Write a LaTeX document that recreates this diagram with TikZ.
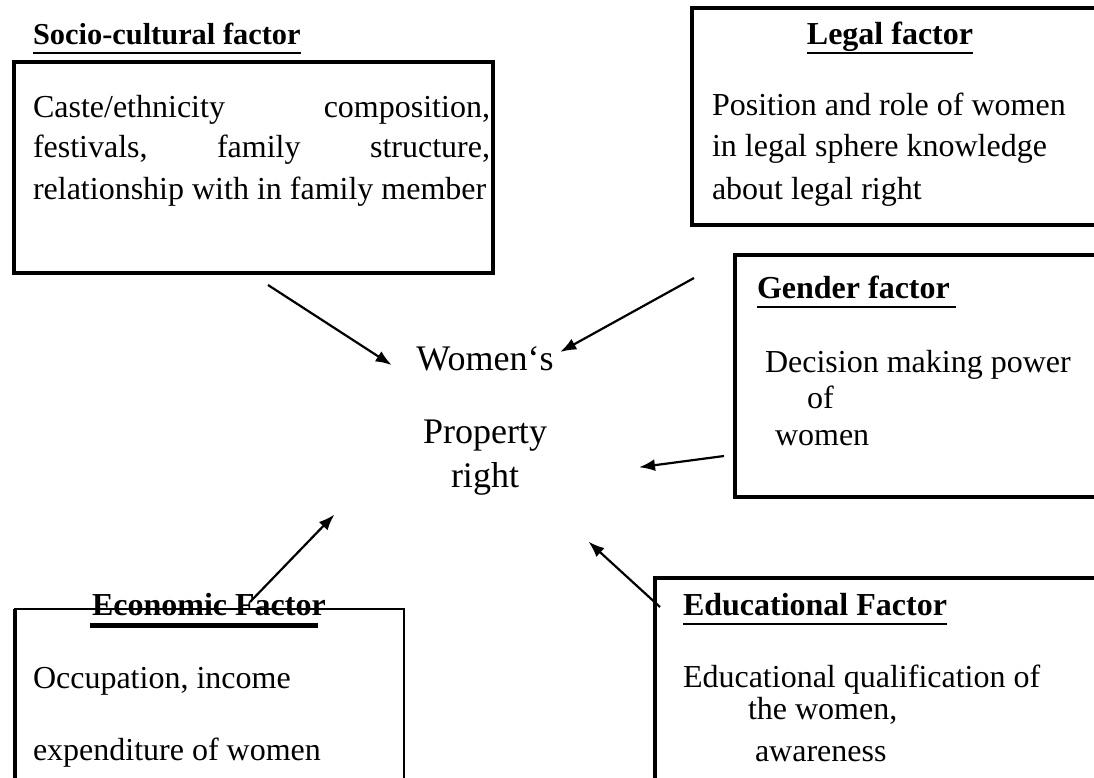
\documentclass[tikz,border=0pt]{standalone}
\usepackage{fontspec}
\setmainfont{Liberation Serif}
\usetikzlibrary{arrows.meta}
\tikzset{
  txt/.style={inner sep=0pt, outer sep=0pt, anchor=base west, font=\fontsize{32}{38}\selectfont},
  ttl/.style={txt, font=\fontsize{32}{38}\selectfont\bfseries},
  big/.style={inner sep=0pt, outer sep=0pt, anchor=base, font=\fontsize{36}{42}\selectfont},
  frame/.style={draw, line width=3.2pt, inner sep=0pt, outer sep=0pt, anchor=north west},
  uline/.style={line width=2.6pt},
  arr/.style={-{Latex[length=16pt,width=12pt]}, line width=2.2pt, shorten >=-2pt},
}
\begin{document}
\begin{tikzpicture}[x=1pt,y=-1pt]
\useasboundingbox (0,0) rectangle (1094,778);
\clip (0,0) rectangle (1094,778);

% ---- boxes ----
\node[frame, minimum width=479pt, minimum height=211pt] (socbox) at (14,62) {};
\node[frame, minimum width=430pt, minimum height=217pt] (legbox) at (692,8) {};
\node[frame, minimum width=390pt, minimum height=242pt] (genbox) at (735,255) {};
\node[frame, line width=2.2pt, minimum width=389pt, minimum height=200pt] (ecobox) at (15,609) {};
\draw[line width=3.6pt] (15,609) -- (15,800);
\node[frame, minimum width=450pt, minimum height=205pt] (edubox) at (655,578) {};

% ---- socio-cultural ----
\node[ttl, font=\fontsize{30.4}{38}\selectfont\bfseries] (soct) at (33,45) {Socio-cultural factor};
\draw[uline] ([yshift=-8pt]soct.base west) -- ([yshift=-8pt]soct.base east);
\node[txt, text width=457pt] (soc1) at (33,118) {Caste/ethnicity\hfill composition,};
\node[txt, text width=457pt] (soc2) at (33,158) {festivals,\hfill family\hfill structure,};
\node[txt] (soc3) at (33,200) {relationship with in family member};

% ---- legal ----
\node[ttl, anchor=base] (legt) at (890,45) {Legal factor};
\draw[uline] ([yshift=-8pt]legt.base west) -- ([yshift=-8pt]legt.base east);
\node[txt] (leg1) at (712,116) {Position and role of women};
\node[txt] (leg2) at (712,157) {in legal sphere knowledge};
\node[txt] (leg3) at (712,200) {about legal right};

% ---- gender ----
\node[ttl] (gent) at (757,298) {Gender factor};
\draw[uline] ([yshift=-9pt]gent.base west) -- ([yshift=-9pt,xshift=6pt]gent.base east);
\node[txt] (gen1) at (765,372) {Decision making power};
\node[txt] (gen2) at (807,408) {of};
\node[txt] (gen3) at (775,445) {women};

% ---- economic ----
\node[ttl] (ecot) at (92,615) {Economic Factor};
\draw[line width=5pt] (90,625.5) -- (318,625.5);
\node[txt] (eco1) at (33,688) {Occupation, income};
\node[txt] (eco2) at (33,760) {expenditure of women};

% ---- educational ----
\node[ttl] (edut) at (683,615) {Educational Factor};
\draw[uline] ([yshift=-9pt]edut.base west) -- ([yshift=-9pt]edut.base east);
\node[txt] (edu1) at (683,687) {Educational qualification of};
\node[txt] (edu2) at (748,719) {the women,};
\node[txt] (edu3) at (755,761) {awareness};

% ---- centre ----
\node[big] (c1) at (485,370) {Women‘s};
\node[big] (c2) at (485,443) {Property};
\node[big] (c3) at (485,487) {right};

% ---- connectors ----
\coordinate (socA) at (268,285);  \coordinate (ctrA) at (390,364);
\coordinate (legA) at (694,278);  \coordinate (ctrB) at (562,351);
\coordinate (genA) at (724,456);  \coordinate (ctrC) at (641,467);
\coordinate (eduA) at (660,607);  \coordinate (ctrD) at (590,543);
\coordinate (ecoA) at (250,602);  \coordinate (ctrE) at (333,516);
\draw[arr] (socA) -- (ctrA);
\draw[arr] (legA) -- (ctrB);
\draw[arr] (genA) -- (ctrC);
\draw[arr] (eduA) -- (ctrD);
\draw[arr] (ecoA) -- (ctrE);
\end{tikzpicture}
\end{document}
